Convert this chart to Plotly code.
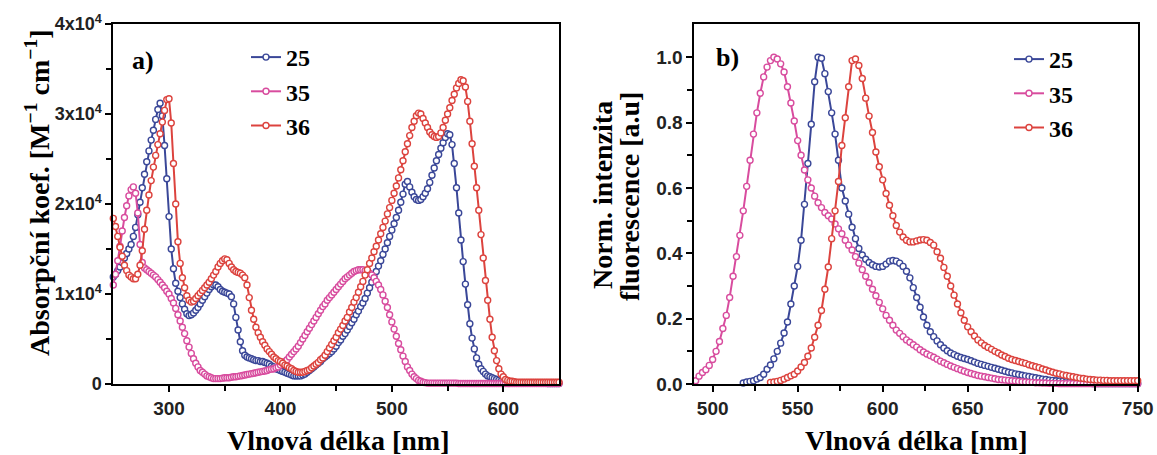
import plotly.graph_objects as go

# ---------------- data ----------------
# a) absorption, wavelength grid 250..650 nm step 2, values in units of 1e4 M^-1 cm^-1
ABS_NM = list(range(250, 652, 2))

ABS_25 = [
    1.19, 1.22, 1.26, 1.30, 1.35, 1.40, 1.45, 1.50, 1.55, 1.64,   # 250
    1.74, 1.88, 2.02, 2.18, 2.33, 2.47, 2.59, 2.71, 2.82, 2.94,   # 270
    3.05, 3.12, 2.98, 2.65, 2.28, 1.86, 1.50, 1.28, 1.12, 1.03,   # 290
    0.96, 0.89, 0.83, 0.78, 0.76, 0.77, 0.79, 0.82, 0.85, 0.89,   # 310
    0.93, 0.97, 1.01, 1.05, 1.08, 1.10, 1.10, 1.08, 1.05, 1.03,   # 330
    1.02, 1.01, 1.00, 0.97, 0.89, 0.74, 0.60, 0.47, 0.37, 0.32,   # 350
    0.30, 0.29, 0.28, 0.27, 0.26, 0.26, 0.25, 0.25, 0.24, 0.23,   # 370
    0.22, 0.20, 0.19, 0.17, 0.16, 0.15, 0.14, 0.13, 0.12, 0.11,   # 390
    0.10, 0.09, 0.09, 0.09, 0.09, 0.10, 0.11, 0.13, 0.15, 0.17,   # 410
    0.19, 0.21, 0.23, 0.25, 0.28, 0.30, 0.32, 0.34, 0.36, 0.39,   # 430
    0.42, 0.46, 0.49, 0.53, 0.56, 0.60, 0.64, 0.68, 0.72, 0.77,   # 450
    0.81, 0.86, 0.90, 0.95, 1.01, 1.07, 1.13, 1.19, 1.25, 1.31,   # 470
    1.37, 1.44, 1.50, 1.57, 1.64, 1.71, 1.78, 1.85, 1.93, 2.02,   # 490
    2.11, 2.22, 2.25, 2.19, 2.13, 2.08, 2.05, 2.04, 2.05, 2.08,   # 510
    2.12, 2.17, 2.24, 2.32, 2.40, 2.48, 2.55, 2.62, 2.68, 2.74,   # 530
    2.78, 2.77, 2.66, 2.45, 2.18, 1.90, 1.60, 1.36, 1.11, 0.88,   # 550
    0.67, 0.51, 0.39, 0.29, 0.22, 0.17, 0.14, 0.11, 0.09, 0.08,   # 570
    0.07, 0.06, 0.05, 0.04, 0.03, 0.02, 0.015, 0.01, 0.01, 0.01,  # 590
    0.01, 0.01, 0.01, 0.01, 0.01, 0.01, 0.01, 0.01, 0.01, 0.01,   # 610
    0.01, 0.01, 0.01, 0.01, 0.01, 0.005, 0.005, 0.005, 0.005, 0.005,  # 630
    0.005,                                                        # 650
]

ABS_35 = [
    1.10, 1.22, 1.37, 1.53, 1.70, 1.85, 1.98, 2.09, 2.16, 2.19,   # 250
    2.12, 1.90, 1.55, 1.35, 1.29, 1.27, 1.25, 1.23, 1.21, 1.19,   # 270
    1.16, 1.13, 1.10, 1.07, 1.03, 1.00, 0.95, 0.90, 0.84, 0.77,   # 290
    0.70, 0.63, 0.56, 0.48, 0.41, 0.34, 0.28, 0.23, 0.19, 0.15,   # 310
    0.13, 0.11, 0.09, 0.08, 0.07, 0.06, 0.06, 0.06, 0.06, 0.065,  # 330
    0.07, 0.07, 0.07, 0.075, 0.08, 0.08, 0.085, 0.09, 0.095, 0.10,  # 350
    0.105, 0.11, 0.115, 0.12, 0.125, 0.13, 0.135, 0.14, 0.145, 0.15,  # 370
    0.16, 0.165, 0.17, 0.18, 0.19, 0.21, 0.23, 0.25, 0.27, 0.30,  # 390
    0.33, 0.36, 0.39, 0.42, 0.46, 0.50, 0.54, 0.58, 0.62, 0.66,   # 410
    0.70, 0.74, 0.78, 0.82, 0.86, 0.89, 0.93, 0.96, 0.99, 1.02,   # 430
    1.05, 1.08, 1.11, 1.14, 1.17, 1.19, 1.21, 1.23, 1.25, 1.26,   # 450
    1.27, 1.27, 1.27, 1.26, 1.25, 1.23, 1.21, 1.18, 1.14, 1.10,   # 470
    1.05, 0.99, 0.92, 0.85, 0.77, 0.69, 0.61, 0.53, 0.45, 0.38,   # 490
    0.31, 0.25, 0.19, 0.15, 0.11, 0.08, 0.06, 0.04, 0.03, 0.02,   # 510
    0.015, 0.01, 0.01, 0.01, 0.01, 0.01, 0.01, 0.01, 0.01, 0.01,  # 530
    0.01, 0.01, 0.01, 0.01, 0.01, 0.005, 0.005, 0.005, 0.005, 0.005,  # 550
    0.005, 0.005, 0.005, 0.005, 0.005, 0.005, 0.005, 0.005, 0.005, 0.005,  # 570
    0.005, 0.005, 0.005, 0.005, 0.005, 0.005, 0.005, 0.005, 0.005, 0.005,  # 590
    0.005, 0.005, 0.005, 0.005, 0.005, 0.005, 0.005, 0.005, 0.005, 0.005,  # 610
    0.005, 0.005, 0.005, 0.005, 0.005, 0.005, 0.005, 0.005, 0.005, 0.005,  # 630
    0.005,                                                        # 650
]

ABS_36 = [
    1.84, 1.75, 1.64, 1.52, 1.42, 1.32, 1.26, 1.21, 1.19, 1.17,   # 250
    1.17, 1.22, 1.32, 1.48, 1.72, 1.93, 2.10, 2.26, 2.41, 2.54,   # 270
    2.66, 2.78, 2.91, 3.04, 3.16, 3.17, 2.90, 2.45, 2.00, 1.58,   # 290
    1.34, 1.18, 1.07, 0.98, 0.93, 0.91, 0.92, 0.95, 0.98, 1.01,   # 310
    1.04, 1.07, 1.10, 1.13, 1.17, 1.21, 1.25, 1.30, 1.34, 1.37,   # 330
    1.39, 1.38, 1.34, 1.30, 1.27, 1.25, 1.24, 1.23, 1.21, 1.18,   # 350
    1.10, 0.96, 0.82, 0.72, 0.63, 0.57, 0.52, 0.47, 0.43, 0.39,   # 370
    0.36, 0.33, 0.30, 0.28, 0.26, 0.25, 0.23, 0.21, 0.20, 0.18,   # 390
    0.17, 0.15, 0.14, 0.13, 0.13, 0.13, 0.14, 0.15, 0.16, 0.18,   # 410
    0.20, 0.22, 0.24, 0.27, 0.29, 0.32, 0.36, 0.40, 0.44, 0.48,   # 430
    0.52, 0.57, 0.61, 0.65, 0.70, 0.74, 0.80, 0.85, 0.91, 0.96,   # 450
    1.02, 1.08, 1.14, 1.21, 1.27, 1.34, 1.40, 1.47, 1.53, 1.60,   # 470
    1.67, 1.74, 1.81, 1.89, 1.96, 2.04, 2.12, 2.20, 2.29, 2.38,   # 490
    2.48, 2.58, 2.67, 2.76, 2.85, 2.92, 2.98, 3.01, 3.00, 2.95,   # 510
    2.90, 2.85, 2.80, 2.77, 2.75, 2.74, 2.75, 2.79, 2.85, 2.93,   # 530
    3.00, 3.07, 3.15, 3.22, 3.29, 3.34, 3.38, 3.37, 3.30, 3.14,   # 550
    2.92, 2.67, 2.42, 2.18, 1.93, 1.66, 1.40, 1.15, 0.93, 0.72,   # 570
    0.52, 0.37, 0.26, 0.17, 0.11, 0.08, 0.05, 0.04, 0.03, 0.03,   # 590
    0.025, 0.02, 0.02, 0.02, 0.02, 0.02, 0.02, 0.02, 0.02, 0.02,  # 610
    0.02, 0.02, 0.02, 0.02, 0.02, 0.02, 0.02, 0.02, 0.02, 0.02,   # 630
    0.02,                                                         # 650
]

# b) normalised fluorescence, wavelength grid 490..750 nm step 2 (None = no data)
FL_NM = list(range(490, 752, 2))

FL_25 = [
    None, None, None, None, None, None, None, None, None, None,   # 490
    None, None, None, None, 0.003, 0.006, 0.008, 0.01, 0.015, 0.02,  # 510
    0.03, 0.045, 0.058, 0.077, 0.10, 0.125, 0.156, 0.19, 0.245, 0.30,  # 530
    0.36, 0.44, 0.55, 0.675, 0.795, 0.925, 1.00, 0.997, 0.95, 0.895,  # 550
    0.83, 0.765, 0.685, 0.60, 0.56, 0.52, 0.48, 0.445, 0.415, 0.395,  # 570
    0.382, 0.372, 0.365, 0.36, 0.358, 0.36, 0.367, 0.376, 0.378, 0.376,  # 590
    0.37, 0.36, 0.345, 0.325, 0.295, 0.265, 0.235, 0.205, 0.18, 0.16,  # 610
    0.145, 0.132, 0.12, 0.11, 0.102, 0.095, 0.09, 0.085, 0.081, 0.078,  # 630
    0.075, 0.071, 0.067, 0.063, 0.06, 0.057, 0.054, 0.051, 0.048, 0.045,  # 650
    0.042, 0.039, 0.036, 0.034, 0.031, 0.029, 0.027, 0.025, 0.023, 0.021,  # 670
    0.019, 0.017, 0.015, 0.014, 0.012, 0.011, 0.01, 0.009, 0.008, 0.007,  # 690
    0.006, 0.005, 0.004, 0.003, 0.003, 0.002, 0.002, 0.001, 0.001, 0.001,  # 710
    0.001, 0.001, 0.001, 0.001, 0.001, 0.001, 0.001, 0.001, 0.001, 0.001,  # 730
    0.001,                                                        # 750
]

FL_35 = [
    0.01, 0.024, 0.035, 0.044, 0.057, 0.075, 0.10, 0.13, 0.17, 0.21,  # 490
    0.265, 0.33, 0.39, 0.455, 0.53, 0.605, 0.685, 0.765, 0.83, 0.89,  # 510
    0.94, 0.97, 0.99, 1.00, 0.995, 0.98, 0.955, 0.91, 0.86, 0.805,  # 530
    0.745, 0.70, 0.655, 0.625, 0.60, 0.575, 0.555, 0.54, 0.525, 0.515,  # 550
    0.505, 0.49, 0.475, 0.46, 0.44, 0.425, 0.41, 0.39, 0.37, 0.35,  # 570
    0.33, 0.31, 0.29, 0.27, 0.25, 0.23, 0.21, 0.195, 0.18, 0.165,  # 590
    0.155, 0.145, 0.135, 0.128, 0.12, 0.113, 0.105, 0.098, 0.092, 0.087,  # 610
    0.082, 0.076, 0.07, 0.065, 0.06, 0.055, 0.051, 0.047, 0.043, 0.039,  # 630
    0.035, 0.032, 0.029, 0.026, 0.024, 0.022, 0.020, 0.018, 0.016, 0.014,  # 650
    0.013, 0.012, 0.011, 0.010, 0.009, 0.008, 0.007, 0.006, 0.005, 0.005,  # 670
    0.004, 0.004, 0.003, 0.003, 0.002, 0.002, 0.002, 0.001, 0.001, 0.001,  # 690
    0.001, 0.001, 0.001, 0.001, 0.001, 0.001, 0.001, 0.001, 0.001, 0.001,  # 710
    0.001, 0.001, 0.001, 0.001, 0.001, 0.001, 0.001, 0.001, 0.001, 0.001,  # 730
    0.001,                                                        # 750
]

FL_36 = [
    None, None, None, None, None, None, None, None, None, None,   # 490
    None, None, None, None, None, None, None, None, None, None,   # 510
    None, None, 0.005, 0.006, 0.008, 0.011, 0.015, 0.02, 0.025, 0.03,  # 530
    0.04, 0.052, 0.066, 0.085, 0.11, 0.143, 0.18, 0.225, 0.29, 0.358,  # 550
    0.445, 0.53, 0.62, 0.73, 0.815, 0.91, 0.99, 0.995, 0.975, 0.935,  # 570
    0.875, 0.82, 0.77, 0.71, 0.665, 0.625, 0.583, 0.547, 0.515, 0.485,  # 590
    0.465, 0.45, 0.44, 0.435, 0.435, 0.438, 0.441, 0.442, 0.44, 0.433,  # 610
    0.425, 0.405, 0.385, 0.357, 0.33, 0.30, 0.272, 0.245, 0.218, 0.195,  # 630
    0.175, 0.16, 0.147, 0.135, 0.126, 0.118, 0.112, 0.106, 0.100, 0.095,  # 650
    0.089, 0.084, 0.079, 0.075, 0.072, 0.069, 0.066, 0.063, 0.059, 0.056,  # 670
    0.053, 0.05, 0.046, 0.043, 0.039, 0.036, 0.033, 0.031, 0.028, 0.026,  # 690
    0.024, 0.022, 0.02, 0.018, 0.017, 0.015, 0.014, 0.013, 0.012, 0.012,  # 710
    0.011, 0.011, 0.01, 0.01, 0.01, 0.01, 0.01, 0.01, 0.01, 0.01,  # 730
    0.01,                                                         # 750
]

SERIES_NAMES = ["25", "35", "36"]
COLORS = ["#3a4798", "#d84c9e", "#dc433e"]

ABS_YTICKS = [0, 10000, 20000, 30000, 40000]
ABS_YTICKTEXT = ["0", "1x10<sup>4</sup>", "2x10<sup>4</sup>", "3x10<sup>4</sup>", "4x10<sup>4</sup>"]
FL_YTICKS = [0.0, 0.2, 0.4, 0.6, 0.8, 1.0]
FL_YTICKTEXT = ["0.0", "0.2", "0.4", "0.6", "0.8", "1.0"]

# ---------------- figure ----------------
W, H = 1157, 455
SERIF = "Liberation Serif, Times New Roman, serif"
SANS = "Liberation Sans, Arial, sans-serif"


def px(sx):
    return sx / W


def py(sy):
    return 1 - sy / H


fig = go.Figure()

abs_sets = [ABS_25, ABS_35, ABS_36]
fl_sets = [FL_25, FL_35, FL_36]


def marker_style(col):
    return dict(symbol="circle", size=6, color="white", line=dict(color=col, width=1.4))


for name, col, vals in zip(SERIES_NAMES, COLORS, abs_sets):
    fig.add_trace(go.Scatter(
        x=ABS_NM, y=[v * 1e4 for v in vals], name=name,
        mode="lines+markers", xaxis="x", yaxis="y", legend="legend",
        line=dict(color=col, width=2), marker=marker_style(col),
        cliponaxis=False,
    ))

for name, col, vals in zip(SERIES_NAMES, COLORS, fl_sets):
    fig.add_trace(go.Scatter(
        x=FL_NM, y=vals, name=name,
        mode="lines+markers", xaxis="x2", yaxis="y2", legend="legend2",
        line=dict(color=col, width=2), marker=marker_style(col),
        connectgaps=False, cliponaxis=False,
    ))

TICKFONT = dict(family=SANS, size=19, color="#222222", weight="bold")
MINOR = dict(ticks="outside", ticklen=5, tickwidth=1.5, tickcolor="black")
axis_common = dict(
    showline=True, linecolor="black", linewidth=1.8, mirror=True,
    ticks="outside", ticklen=6, tickwidth=1.5, tickcolor="black",
    showgrid=False, zeroline=False, automargin=False,
)

YDOM = [py(384), py(24)]

fig.update_layout(
    width=W, height=H,
    margin=dict(l=0, r=0, t=0, b=0, autoexpand=False),
    paper_bgcolor="white", plot_bgcolor="white",
    showlegend=True,
    xaxis=dict(domain=[px(113.3), px(559)], range=[250, 650],
               tickvals=[300, 400, 500, 600], tickfont=TICKFONT,
               minor=dict(tickvals=[350, 450, 550], **MINOR),
               anchor="y", **axis_common),
    yaxis=dict(domain=YDOM, range=[0, 40000],
               tickvals=ABS_YTICKS, ticktext=ABS_YTICKTEXT,
               tickfont=dict(TICKFONT, size=18),
               minor=dict(tickvals=[5000, 15000, 25000, 35000], **MINOR),
               anchor="x", **axis_common),
    xaxis2=dict(domain=[px(694.3), px(1137.7)], range=[489.2, 750],
                tickvals=[500, 550, 600, 650, 700, 750], tickfont=TICKFONT,
                minor=dict(tickvals=[525, 575, 625, 675, 725], **MINOR),
                anchor="y2", **axis_common),
    yaxis2=dict(domain=YDOM, range=[0, 1.102],
                tickvals=FL_YTICKS, ticktext=FL_YTICKTEXT, tickfont=TICKFONT,
                minor=dict(tickvals=[0.1, 0.3, 0.5, 0.7, 0.9], **MINOR),
                anchor="x2", **axis_common),
    legend=dict(x=px(246), y=py(35), xanchor="left", yanchor="top",
                bgcolor="rgba(0,0,0,0)", borderwidth=0,
                font=dict(family=SERIF, size=24, color="black", weight="bold"),
                tracegroupgap=0, itemwidth=30),
    legend2=dict(x=px(1009), y=py(37), xanchor="left", yanchor="top",
                 bgcolor="rgba(0,0,0,0)", borderwidth=0,
                 font=dict(family=SERIF, size=24, color="black", weight="bold"),
                 tracegroupgap=0, itemwidth=30),
)

title_font = dict(family=SERIF, size=28, color="black", weight="bold")
label_font = dict(family=SERIF, size=26, color="black", weight="bold")
ann = [
    dict(text="Absorpční koef. [M<sup>−1</sup> cm<sup>−1</sup>]", x=px(37), y=py(193),
         textangle=-90, font=title_font),
    dict(text="Norm. intenzita", x=px(602), y=py(195), textangle=-90, font=title_font),
    dict(text="fluorescence [a.u]", x=px(629), y=py(197), textangle=-90, font=title_font),
    dict(text="Vlnová délka [nm]", x=px(338), y=py(440), font=title_font),
    dict(text="Vlnová délka [nm]", x=px(916), y=py(440), font=title_font),
    dict(text="a)", x=px(143), y=py(61), font=label_font),
    dict(text="b)", x=px(727), y=py(57), font=label_font),
]
for a in ann:
    a.update(xref="paper", yref="paper", xanchor="center", yanchor="middle",
             showarrow=False)
fig.update_layout(annotations=ann)

# remove the default page margin so the 1157x455 figure fills the window exactly
fig.write_html(
    "out.html",
    config={"displayModeBar": False},
    post_script="document.body.style.margin='0';document.body.style.overflow='hidden';",
)
